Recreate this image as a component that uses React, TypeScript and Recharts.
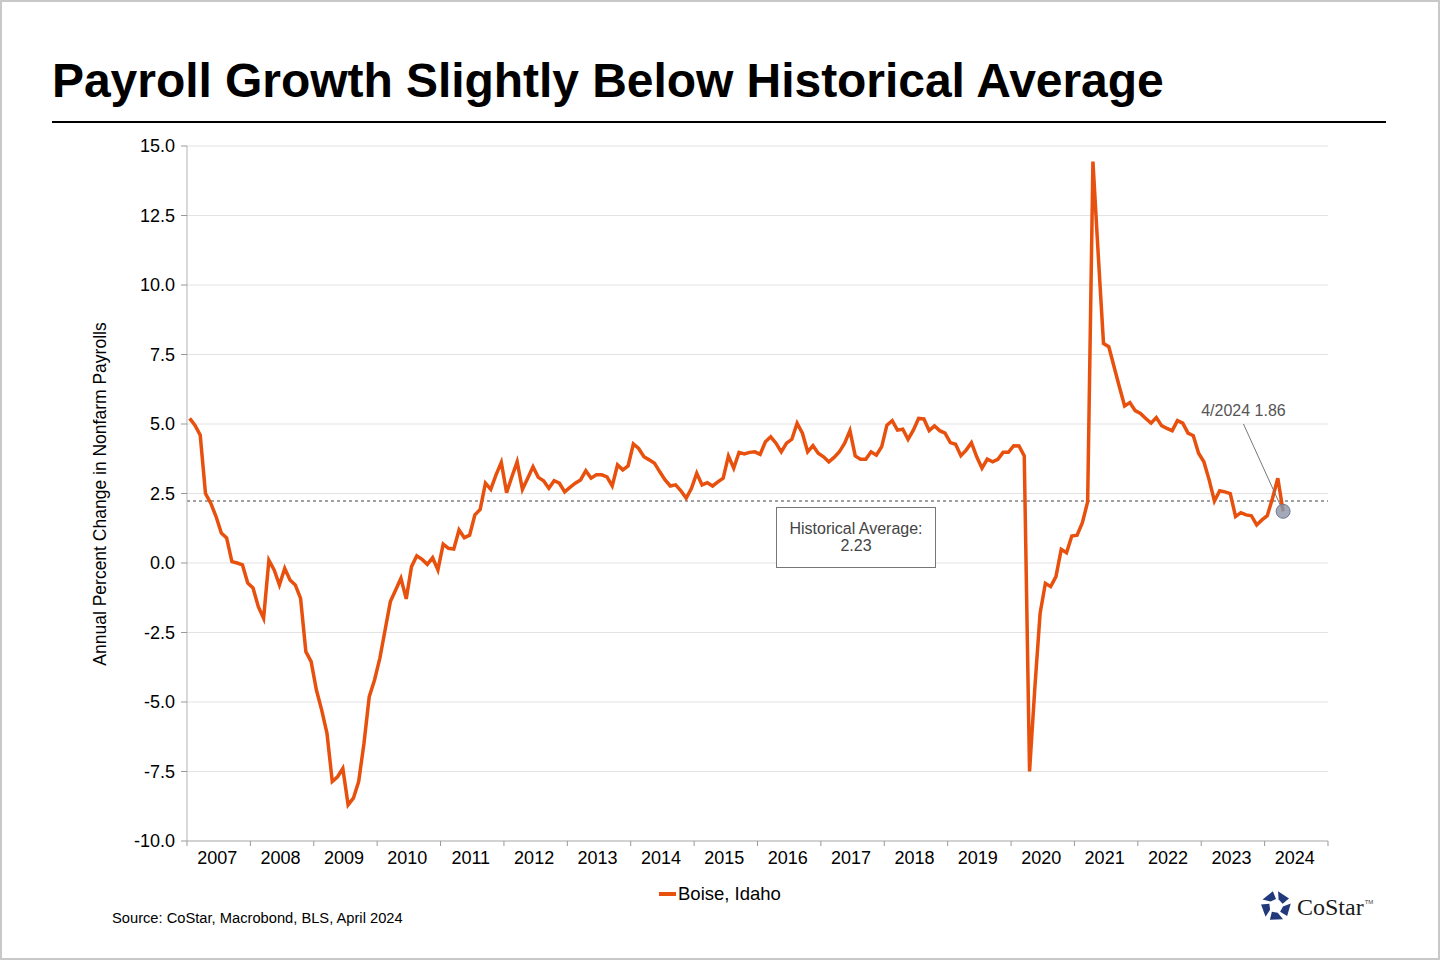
import React from "react";
import {
  LineChart,
  Line,
  XAxis,
  YAxis,
  CartesianGrid,
  ReferenceLine,
  ReferenceDot,
} from "recharts";

// Boise, Idaho - annual % change in nonfarm payrolls, monthly Jan 2007 .. Apr 2024
const Y2007 = [5.2, 4.96, 4.6, 2.5, 2.15, 1.67, 1.08, 0.9, 0.05, 0.0, -0.07, -0.72];
const Y2008 = [-0.9, -1.57, -1.99, 0.1, -0.25, -0.79, -0.19, -0.61, -0.79, -1.27, -3.19, -3.55];
const Y2009 = [-4.57, -5.29, -6.13, -7.86, -7.69, -7.39, -8.7, -8.46, -7.86, -6.49, -4.81, -4.21];
const Y2010 = [-3.43, -2.41, -1.39, -0.97, -0.55, -1.29, -0.13, 0.26, 0.13, -0.05, 0.19, -0.25];
const Y2011 = [0.68, 0.53, 0.5, 1.19, 0.91, 1.0, 1.73, 1.93, 2.87, 2.65, 3.17, 3.62];
const Y2012 = [2.53, 3.1, 3.64, 2.65, 3.05, 3.46, 3.08, 2.96, 2.69, 2.96, 2.87, 2.56];
const Y2013 = [2.72, 2.87, 2.99, 3.32, 3.05, 3.17, 3.17, 3.1, 2.77, 3.53, 3.35, 3.49];
const Y2014 = [4.28, 4.12, 3.82, 3.71, 3.59, 3.28, 2.99, 2.77, 2.81, 2.6, 2.33, 2.69];
const Y2015 = [3.23, 2.81, 2.89, 2.77, 2.92, 3.05, 3.85, 3.41, 3.98, 3.92, 3.98, 4.0];
const Y2016 = [3.91, 4.36, 4.54, 4.31, 4.0, 4.31, 4.45, 5.03, 4.67, 4.0, 4.22, 3.95];
const Y2017 = [3.82, 3.64, 3.8, 4.0, 4.31, 4.76, 3.85, 3.73, 3.73, 4.0, 3.88, 4.18];
const Y2018 = [4.96, 5.12, 4.78, 4.81, 4.45, 4.78, 5.2, 5.18, 4.76, 4.93, 4.76, 4.67];
const Y2019 = [4.33, 4.27, 3.86, 4.06, 4.33, 3.82, 3.41, 3.74, 3.64, 3.73, 3.98, 3.98];
const Y2020 = [4.22, 4.21, 3.85, -7.5, -4.5, -1.81, -0.73, -0.85, -0.49, 0.49, 0.37, 0.97];
const Y2021 = [1.0, 1.45, 2.2, 14.44, 11.1, 7.9, 7.78, 7.06, 6.34, 5.65, 5.77, 5.48];
const Y2022 = [5.38, 5.2, 5.03, 5.23, 4.94, 4.84, 4.76, 5.12, 5.03, 4.67, 4.58, 3.95];
const Y2023 = [3.64, 2.99, 2.23, 2.6, 2.56, 2.5, 1.67, 1.81, 1.73, 1.7, 1.37, 1.55];
const Y2024 = [1.7, 2.33, 3.05, 1.86];

const BOISE = [
  ...Y2007, ...Y2008, ...Y2009, ...Y2010, ...Y2011, ...Y2012,
  ...Y2013, ...Y2014, ...Y2015, ...Y2016, ...Y2017, ...Y2018,
  ...Y2019, ...Y2020, ...Y2021, ...Y2022, ...Y2023, ...Y2024,
];

const YEARS = [
  "2007", "2008", "2009", "2010", "2011", "2012", "2013", "2014", "2015",
  "2016", "2017", "2018", "2019", "2020", "2021", "2022", "2023", "2024",
];
const Y_TICKS = [-10, -7.5, -5, -2.5, 0, 2.5, 5, 7.5, 10, 12.5, 15];
const HIST_AVG = 2.23;
const LAST_LABEL = "4/2024 1.86";

const ORANGE = "#e8500e";
const PLOT_W = 1328 - 187;
const YEAR_PX = PLOT_W / YEARS.length;

// x = month index, centred in its month band
const data = BOISE.map((v, i) => ({ x: i + 0.5, v }));
const X_TICKS = YEARS.map((_, i) => i * 12).concat(YEARS.length * 12);
const lastX = BOISE.length - 0.5;
const lastV = BOISE[BOISE.length - 1];

function YearTick(props: any) {
  const { x, y, payload } = props;
  const i = Math.round(payload.value / 12);
  if (i >= YEARS.length) return null;
  return (
    <text x={x + YEAR_PX / 2 - 1.5} y={y} dy={16} textAnchor="middle" fontSize={18} fill="#000">
      {YEARS[i]}
    </text>
  );
}

function Logo() {
  const cx = 15, cy = 15;
  const pieces = [0, 1, 2, 3, 4].map((k) => {
    const a0 = (-90 + k * 72 + 8) * (Math.PI / 180);
    const a1 = a0 + (52 * Math.PI) / 180;
    const a2 = a0 + (64 * Math.PI) / 180;
    const a3 = a0 + (14 * Math.PI) / 180;
    const pts = [
      [cx + 15 * Math.cos(a0), cy + 15 * Math.sin(a0)],
      [cx + 15 * Math.cos(a1), cy + 15 * Math.sin(a1)],
      [cx + 7 * Math.cos(a2), cy + 7 * Math.sin(a2)],
      [cx + 7 * Math.cos(a3), cy + 7 * Math.sin(a3)],
    ];
    return pts.map((p) => p.join(",")).join(" ");
  });
  return (
    <div style={{ position: "absolute", left: 1261, top: 891, display: "flex", alignItems: "center" }}>
      <svg width={31} height={31}>
        {pieces.map((p, i) => (
          <polygon key={i} points={p} fill="#22397a" />
        ))}
      </svg>
      <span
        style={{
          fontFamily: "'Liberation Serif', 'DejaVu Serif', serif",
          fontSize: 24,
          color: "#1b1b1b",
          marginLeft: 5,
          marginTop: 2,
        }}
      >
        CoStar
      </span>
      <span style={{ fontSize: 6, color: "#444", marginTop: -10, marginLeft: 1 }}>TM</span>
    </div>
  );
}

export default function App() {
  return (
    <div
      style={{
        position: "relative",
        width: 1440,
        height: 960,
        background: "#fff",
        fontFamily: "'Liberation Sans', Arial, sans-serif",
        overflow: "hidden",
      }}
    >
      <style>{`body{margin:0}`}</style>

      <div
        style={{
          position: "absolute",
          left: 52,
          top: 57,
          fontSize: 48,
          lineHeight: "48px",
          fontWeight: 700,
          color: "#000",
          whiteSpace: "nowrap",
          letterSpacing: -0.05,
        }}
      >
        Payroll Growth Slightly Below Historical Average
      </div>
      <div style={{ position: "absolute", left: 52, top: 121, width: 1334, height: 2, background: "#000" }} />

      <div style={{ position: "absolute", left: 0, top: 0 }}>
        <LineChart
          width={1440}
          height={960}
          data={data}
          margin={{ top: 146, right: 112, bottom: 79, left: 100 }}
        >
          <CartesianGrid vertical={false} stroke="#e3e3e3" />
          <XAxis
            dataKey="x"
            type="number"
            domain={[0, YEARS.length * 12]}
            ticks={X_TICKS}
            interval={0}
            height={40}
            axisLine={{ stroke: "#b3b3b3" }}
            tickLine={{ stroke: "#999" }}
            tickSize={5}
            tickMargin={2}
            tick={(p: any) => <YearTick {...p} />}
          />
          <YAxis
            domain={[-10, 15]}
            ticks={Y_TICKS}
            interval={0}
            width={87}
            tickFormatter={(v: number) => v.toFixed(1)}
            tick={{ fill: "#000", fontSize: 18 }}
            tickSize={6}
            tickMargin={6}
            axisLine={{ stroke: "#b3b3b3" }}
            tickLine={{ stroke: "#999" }}
          />
          <ReferenceLine y={HIST_AVG} stroke="#444" strokeDasharray="3 3" strokeWidth={1.2} />
          <Line
            type="linear"
            dataKey="v"
            stroke={ORANGE}
            strokeWidth={3.5}
            dot={false}
            isAnimationActive={false}
          />
          <ReferenceLine
            segment={[
              { x: 200, y: 5.0 },
              { x: lastX, y: lastV },
            ]}
            stroke="#777"
            strokeWidth={1}
          />
          <ReferenceDot
            x={lastX}
            y={lastV}
            r={7}
            fill="#8b95a9"
            fillOpacity={0.8}
            stroke="#6f7a90"
            strokeWidth={1}
          />
          <ReferenceDot
            x={200}
            y={5.0}
            r={0}
            fill="none"
            stroke="none"
            label={{ value: LAST_LABEL, position: "top", fill: "#555", fontSize: 16, offset: 8 }}
          />
        </LineChart>
      </div>

      <div
        style={{
          position: "absolute",
          left: 100,
          top: 494,
          transform: "translate(-50%, -50%) rotate(-90deg)",
          fontSize: 17.5,
          color: "#000",
          whiteSpace: "nowrap",
        }}
      >
        Annual Percent Change in Nonfarm Payrolls
      </div>

      <div
        style={{
          position: "absolute",
          left: 776,
          top: 507,
          width: 160,
          height: 61,
          boxSizing: "border-box",
          border: "1px solid #777",
          background: "#fff",
          color: "#444",
          fontSize: 16,
          lineHeight: "17px",
          textAlign: "center",
          paddingTop: 12,
        }}
      >
        Historical Average:
        <br />
        {HIST_AVG.toFixed(2)}
      </div>

      <div style={{ position: "absolute", left: 659, top: 883, display: "flex", alignItems: "center" }}>
        <div style={{ width: 17, height: 3.5, background: ORANGE, marginRight: 2 }} />
        <span style={{ fontSize: 18.5, color: "#000" }}>Boise, Idaho</span>
      </div>

      <div style={{ position: "absolute", left: 112, top: 910, fontSize: 14.7, color: "#000" }}>
        Source: CoStar, Macrobond, BLS, April 2024
      </div>

      <Logo />

      <div
        style={{
          position: "absolute",
          inset: 0,
          border: "2px solid #c8c8c8",
          pointerEvents: "none",
        }}
      />
    </div>
  );
}
